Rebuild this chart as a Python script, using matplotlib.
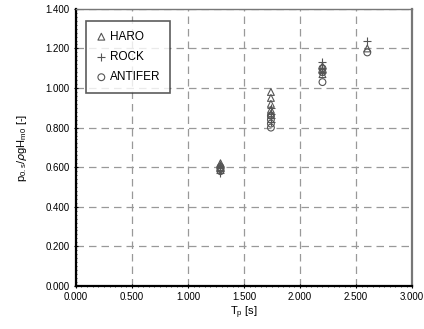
import matplotlib
matplotlib.use("Agg")
import matplotlib.pyplot as plt
from matplotlib.ticker import FormatStrFormatter, MultipleLocator

plt.rcParams['font.family'] = ['Liberation Sans', 'DejaVu Sans']

# data
haro_tp = [1.29, 1.29, 1.29, 1.74, 1.74, 1.74, 1.74, 1.74, 2.20, 2.20, 2.20, 2.60]
haro_p = [0.62, 0.60, 0.61, 0.98, 0.95, 0.92, 0.89, 0.87, 1.11, 1.09, 1.07, 1.20]
rock_tp = [1.29, 1.29, 1.29, 1.74, 1.74, 1.74, 1.74, 2.20, 2.20, 2.20, 2.60]
rock_p = [0.60, 0.58, 0.57, 0.90, 0.87, 0.85, 0.83, 1.13, 1.10, 1.08, 1.24]
antifer_tp = [1.29, 1.29, 1.29, 1.74, 1.74, 1.74, 1.74, 2.20, 2.20, 2.20, 2.60]
antifer_p = [0.59, 0.58, 0.60, 0.86, 0.84, 0.82, 0.80, 1.10, 1.08, 1.03, 1.18]

fig = plt.figure(figsize=(4.24, 3.29), dpi=100)
ax = fig.add_axes([0.179, 0.131, 0.793, 0.842])

col = '#555555'
ax.scatter(haro_tp, haro_p, marker='^', s=24, facecolors='none', edgecolors=col, linewidths=0.8, label='HARO', zorder=3)
ax.scatter(rock_tp, rock_p, marker='+', s=40, color=col, linewidths=0.8, label='ROCK', zorder=3)
ax.scatter(antifer_tp, antifer_p, marker='o', s=24, facecolors='none', edgecolors=col, linewidths=0.8, label='ANTIFER', zorder=3)

ax.set_xlim(0, 3.0)
ax.set_ylim(0, 1.4)
ax.xaxis.set_major_locator(MultipleLocator(0.5))
ax.yaxis.set_major_locator(MultipleLocator(0.2))
ax.xaxis.set_minor_locator(MultipleLocator(0.05))
ax.yaxis.set_minor_locator(MultipleLocator(0.02))
ax.xaxis.set_major_formatter(FormatStrFormatter('%.3f'))
ax.yaxis.set_major_formatter(FormatStrFormatter('%.3f'))
ax.tick_params(labelsize=7, length=3, width=0.8, direction='inout', pad=3)
ax.tick_params(which='minor', length=1.5, width=0.5, direction='inout')

ax.grid(True, which='major', color='#999999', linestyle=(0, (6, 4)), linewidth=0.9)

ax.spines['left'].set_linewidth(1.6)
ax.spines['bottom'].set_linewidth(1.6)
ax.spines['top'].set_color('#777777')
ax.spines['right'].set_color('#777777')
ax.spines['top'].set_linewidth(1.0)
ax.spines['right'].set_linewidth(1.6)

ax.set_xlabel(r'T$_\mathregular{p}$ [s]', fontsize=8, labelpad=2)
ax.set_ylabel(r'p$_\mathregular{0.s}$/$\rho$gH$_\mathregular{m0}$ [-]', fontsize=8, labelpad=12)

leg = ax.legend(loc='upper left', bbox_to_anchor=(0.03, 0.955), fontsize=8.5, frameon=True,
                fancybox=False, edgecolor='#333333', handletextpad=0.2, handlelength=1.0,
                borderpad=0.8, labelspacing=0.7, borderaxespad=0.0)
leg.get_frame().set_linewidth(1.2)

fig.savefig('out.png', dpi=100)
